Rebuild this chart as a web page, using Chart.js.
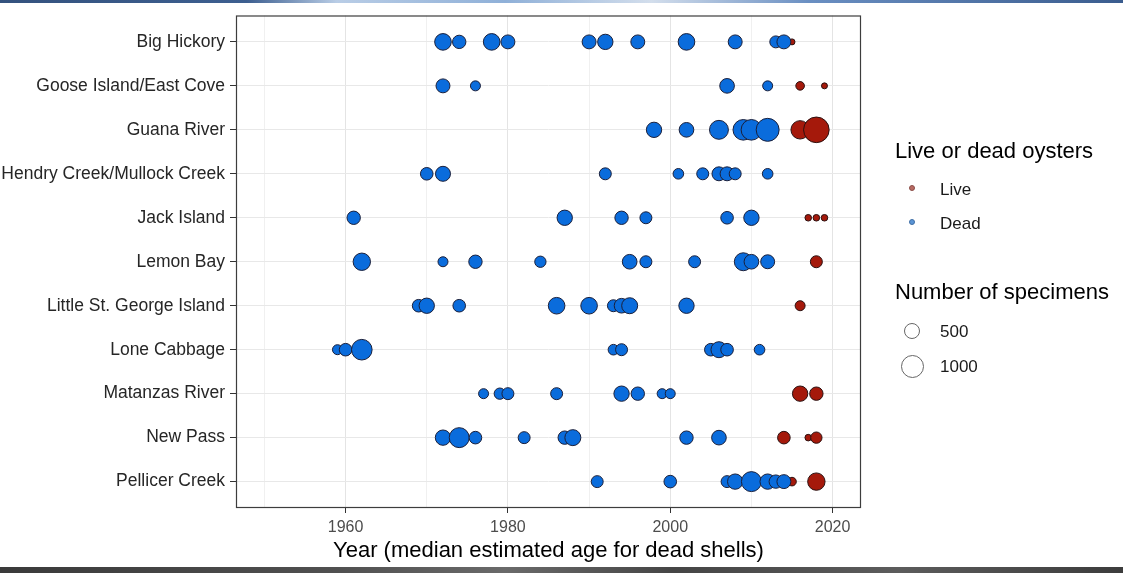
<!DOCTYPE html>
<html>
<head>
<meta charset="utf-8">
<script src="https://cdn.jsdelivr.net/npm/chart.js@4.4.1/dist/chart.umd.min.js"></script>
<style>
    html, body { margin: 0; padding: 0; background: #fff; }
    #wrap { position: relative; width: 1123px; height: 573px; overflow: hidden; font-family: "Liberation Sans", Arial, sans-serif; }
    #chart { position: absolute; left: 0; top: 0; }
    .lg { position: absolute; color: #000; white-space: nowrap; }
    .lg-title { font-size: 22px; line-height: 22px; }
    .lg-item { font-size: 17px; line-height: 17px; color: #1a1a1a; }
    .dot { position: absolute; border-radius: 50%; box-sizing: border-box; }
    #topStrip { position: absolute; left: 0; top: 0; width: 1123px; height: 3px;
        background: linear-gradient(90deg, #34527e 0%, #3d5f90 22%, #b9cde6 30%, #8fb0d8 45%, #d3deec 58%, #6a8fc2 72%, #3a5c8e 100%); }
    #bottomStrip { position: absolute; left: 0; top: 567px; width: 1123px; height: 6px;
        background: linear-gradient(90deg, #3a3a3a 0%, #505050 30%, #6a6a6a 45%, #454545 60%, #5c5c5c 80%, #3c3c3c 100%); }
</style>
</head>
<body>
<div id="wrap">
    <canvas id="chart" width="1123" height="573"></canvas>

    <div class="lg lg-title" style="left:895px; top:140px;">Live or dead oysters</div>
    <div class="dot" style="left:909px; top:185px; width:6px; height:6px; background:#b86a63; border:1px solid #8a4d48;"></div>
    <div class="lg lg-item" style="left:940px; top:181px;">Live</div>
    <div class="dot" style="left:909px; top:219px; width:6px; height:6px; background:#5b95d6; border:1px solid #3f6ea5;"></div>
    <div class="lg lg-item" style="left:940px; top:215px;">Dead</div>

    <div class="lg lg-title" style="left:895px; top:281px;">Number of specimens</div>
    <div class="dot" style="left:904px; top:323px; width:16px; height:16px; border:1px solid #666;"></div>
    <div class="lg lg-item" style="left:940px; top:323px;">500</div>
    <div class="dot" style="left:900.5px; top:355px; width:23px; height:23px; border:1px solid #666;"></div>
    <div class="lg lg-item" style="left:940px; top:358px;">1000</div>

    <div id="topStrip"></div>
    <div id="bottomStrip"></div>
</div>

<script>
const sites = [
    "Big Hickory", "Goose Island/East Cove", "Guana River", "Hendry Creek/Mullock Creek",
    "Jack Island", "Lemon Bay", "Little St. George Island", "Lone Cabbage",
    "Matanzas River", "New Pass", "Pellicer Creek"
];

const xTicks = [1950, 1960, 1970, 1980, 1990, 2000, 2010, 2020];

// one inner array per site, same order as sites
const deadYears = [
    [1972, 1974, 1978, 1980, 1990, 1992, 1996, 2002, 2008, 2013, 2014],
    [1972, 1976, 2007, 2012],
    [1998, 2002, 2006, 2009, 2010, 2012],
    [1970, 1972, 1992, 2001, 2004, 2006, 2007, 2008, 2012],
    [1961, 1987, 1994, 1997, 2007, 2010],
    [1962, 1972, 1976, 1984, 1995, 1997, 2003, 2009, 2010, 2012],
    [1969, 1970, 1974, 1986, 1990, 1993, 1994, 1995, 2002],
    [1959, 1960, 1962, 1993, 1994, 2005, 2006, 2007, 2011],
    [1977, 1979, 1980, 1986, 1994, 1996, 1999, 2000],
    [1972, 1974, 1976, 1982, 1987, 1988, 2002, 2006],
    [1991, 2000, 2007, 2008, 2010, 2012, 2013, 2014]
];
const deadCounts = [
    [540, 350, 540, 380, 380, 460, 380, 540, 380, 280, 380],
    [380, 195, 420, 195],
    [460, 420, 700, 830, 830, 1030],
    [310, 440, 280, 220, 280, 380, 380, 280, 220],
    [350, 460, 350, 280, 310, 460],
    [590, 195, 350, 250, 420, 280, 280, 630, 420, 380],
    [310, 460, 310, 540, 540, 280, 420, 500, 460],
    [195, 310, 830, 220, 280, 310, 500, 310, 220],
    [195, 250, 280, 280, 460, 350, 195, 195],
    [460, 780, 310, 280, 350, 500, 350, 420],
    [280, 310, 280, 460, 780, 460, 350, 380]
];

const liveYears = [
    [2015],
    [2016, 2019],
    [2016, 2018],
    [],
    [2017, 2018, 2019],
    [2018],
    [2016],
    [],
    [2016, 2018],
    [2014, 2017, 2018],
    [2015, 2018]
];
const liveCounts = [
    [70],
    [145, 70],
    [660, 1280],
    [],
    [85, 85, 85],
    [280],
    [195],
    [],
    [460, 350],
    [310, 85, 250],
    [145, 590]
];

// area scale: 500 specimens -> radius 8px
function sizeScale(n) {
    return 8 * Math.sqrt(n / 500);
}

function toPoints(years, counts) {
    const pts = [];
    years.forEach((row, i) => {
        row.forEach((yr, j) => {
            pts.push({ x: yr, y: i, r: sizeScale(counts[i][j]) });
        });
    });
    return pts;
}

const panelBorder = {
    id: "panelBorder",
    afterDraw(chart) {
        const { ctx, chartArea: a } = chart;
        ctx.save();
        ctx.strokeStyle = "#3d3d3d";
        ctx.lineWidth = 1.2;
        ctx.strokeRect(a.left + 0.5, a.top + 0.5, a.right - a.left - 1, a.bottom - a.top - 1);
        ctx.restore();
    }
};

const ctx = document.getElementById("chart").getContext("2d");

new Chart(ctx, {
    type: "bubble",
    data: {
        datasets: [
            {
                label: "Dead",
                data: toPoints(deadYears, deadCounts),
                backgroundColor: "#0a6cdc",
                borderColor: "#1a1f3a",
                borderWidth: 1
            },
            {
                label: "Live",
                data: toPoints(liveYears, liveCounts),
                backgroundColor: "#a5190b",
                borderColor: "#2a1010",
                borderWidth: 1
            }
        ]
    },
    options: {
        responsive: false,
        animation: false,
        events: [],
        layout: { padding: { left: 0, top: 13, right: 262, bottom: 0 } },
        plugins: {
            legend: { display: false },
            tooltip: { enabled: false }
        },
        scales: {
            x: {
                type: "linear",
                min: 1946.5,
                max: 2023.5,
                afterBuildTicks: scale => { scale.ticks = xTicks.map(v => ({ value: v })); },
                afterFit: scale => { scale.height = 65; },
                border: { display: false },
                grid: {
                    color: c => (c.tick && c.tick.value % 20 === 0) ? "#e4e4e4" : "#f0f0f0",
                    tickColor: c => (c.tick && c.tick.value % 20 === 0) ? "#333" : "rgba(0,0,0,0)",
                    tickLength: 5,
                    lineWidth: 1
                },
                ticks: {
                    autoSkip: false,
                    maxRotation: 0,
                    padding: 5,
                    color: "#4d4d4d",
                    font: { family: "Liberation Sans, Arial, sans-serif", size: 16 },
                    callback: v => (v % 20 === 0 ? String(v) : "")
                },
                title: {
                    display: true,
                    text: "Year (median estimated age for dead shells)",
                    color: "#000",
                    padding: { top: 0, bottom: 9 },
                    font: { family: "Liberation Sans, Arial, sans-serif", size: 22 }
                }
            },
            y: {
                type: "linear",
                min: -0.6,
                max: 10.6,
                reverse: true,
                afterBuildTicks: scale => { scale.ticks = sites.map((s, i) => ({ value: i })); },
                afterFit: scale => { scale.width = 236; },
                border: { display: false },
                grid: {
                    color: "#e8e8e8",
                    tickColor: "#333",
                    tickLength: 6,
                    lineWidth: 1
                },
                ticks: {
                    autoSkip: false,
                    padding: 5,
                    color: "#262626",
                    font: { family: "Liberation Sans, Arial, sans-serif", size: 17.5 },
                    callback: v => sites[v]
                }
            }
        }
    },
    plugins: [panelBorder]
});
</script>
</body>
</html>
